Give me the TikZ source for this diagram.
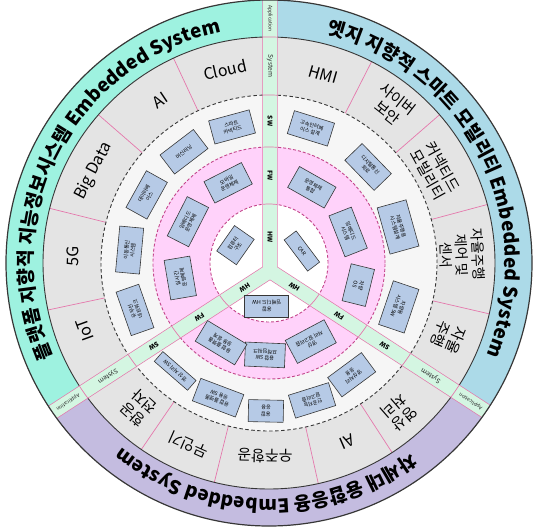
\documentclass[tikz,border=0pt]{standalone}
\usepackage{fontspec}
\setmainfont{Noto Sans CJK KR}
\usetikzlibrary{calc,decorations.text}
\definecolor{bandL}{RGB}{158,242,224}
\definecolor{bandR}{RGB}{172,218,232}
\definecolor{bandB}{RGB}{196,188,224}
\definecolor{ringgray}{RGB}{228,228,228}
\definecolor{swring}{RGB}{246,246,246}
\definecolor{fwpink}{RGB}{255,210,250}
\definecolor{stripc}{RGB}{212,246,226}
\definecolor{boxfill}{RGB}{182,202,230}
\definecolor{pinkline}{RGB}{228,120,172}
\definecolor{dashpink}{RGB}{196,70,140}
\definecolor{outline}{RGB}{55,55,55}
\begin{document}
\begin{tikzpicture}[x=1pt,y=1pt,
  ringtxt/.style={font=\fontsize{15}{17}\selectfont, align=center, text=black, inner sep=0pt},
  ringlat/.style={ringtxt, font=\fontsize{16}{17}\selectfont},
  mbox/.style={draw=outline, fill=boxfill, line width=0.6pt, minimum width=42pt, minimum height=24pt, align=center, inner sep=1pt, font=\fontsize{5.2}{6.2}\selectfont, text=black},
  slbl/.style={font=\fontsize{6.5}{7}\selectfont, inner sep=0pt, text=black!85},
  slbltiny/.style={font=\fontsize{5}{5}\selectfont, inner sep=0pt, text=black!85},
  slblbold/.style={font=\bfseries\fontsize{6.5}{7}\selectfont, inner sep=0pt, text=black},
  sep/.style={pinkline, line width=0.7pt},
  titletext/.style={decorate, decoration={text along path, text align=center, text color=black, text={|\bfseries\fontsize{19}{19}\selectfont|#1}}},
]
\useasboundingbox (-269,-264) rectangle (268,263);
\coordinate (J) at (1,-8);
\coordinate (C) at (0,0);
% title bands
\begin{scope}
  \clip (C) circle (263);
  \fill[bandL] (J) -- ($(J)+(90:600)$) -- ($(J)+(150:600)$) -- ($(J)+(213:600)$) -- cycle;
  \fill[bandR] (J) -- ($(J)+(327:600)$) -- ($(J)+(30:600)$) -- ($(J)+(90:600)$) -- cycle;
  \fill[bandB] (J) -- ($(J)+(213:600)$) -- ($(J)+(270:600)$) -- ($(J)+(327:600)$) -- cycle;
\end{scope}
% rings
\fill[ringgray] (C) circle (226);
\fill[swring] (C) circle (168);
\fill[fwpink] (C) circle (116);
\fill[white] (C) circle (59);
% separators in System ring
\foreach \s in {115,139,166,192,63,41,15,-13,235.6,256,282.6,303}
  \draw[sep] (\s:168) -- (\s:226);
\draw[outline, line width=0.9pt, dash pattern=on 3.5pt off 2.5pt] (C) circle (168);
\draw[dashpink, line width=0.9pt, dash pattern=on 3pt off 2pt] (C) circle (116);
\draw[dashpink, line width=0.9pt, dash pattern=on 3pt off 2pt] (C) circle (59);
\draw[outline, line width=0.9pt] (C) circle (226);
% strips
\begin{scope}
  \clip (C) circle (263);
  \draw[pinkline, line width=15.4pt, line cap=round] (J) -- ++(90:300) (J) -- ++(213:300) (J) -- ++(327:300);
  \draw[stripc, line width=14pt, line cap=round] (J) -- ++(90:300) (J) -- ++(213:300) (J) -- ++(327:300);
\end{scope}
\foreach \a in {90,213,327} {
  \begin{scope}
    \clip ($(J)+(\a+90:7.1)$) -- ++(\a:300) -- ++(\a-90:14.2) -- ++(\a+180:300) -- cycle;
    \draw[sep] (C) circle (226) (C) circle (168) (C) circle (116) (C) circle (59);
  \end{scope}
}
\draw[outline, line width=1.2pt] (C) circle (263);
% strip labels
\foreach \a/\rot/\o/\h in {90/-90/8/34, 213/213/-3.5/30, 327/147/-5.2/29} {
  \node[slbltiny, rotate=\rot] (app\a) at ($(J)+(\a:244.5+\o)$) {Application};
  \node[slbl, rotate=\rot] (sys\a) at ($(J)+(\a:197+\o)$) {System};
  \node[slblbold, rotate=\rot] (sw\a) at ($(J)+(\a:142+\o)$) {SW};
  \node[slblbold, rotate=\rot] (fw\a) at ($(J)+(\a:87.5+\o)$) {FW};
  \node[slblbold, rotate=\rot] (hw\a) at ($(J)+(\a:\h)$) {HW};
}
% System ring texts
\node[ringlat, rotate=12.8] (tcloud) at (102.8:198) {Cloud};
\node[ringlat, rotate=33.8] (tai) at (123.8:196) {AI};
\node[ringlat, rotate=62.3] (tbig) at (152.3:198) {Big Data};
\node[ringlat, rotate=88] (t5g) at (178:196) {5G};
\node[ringlat, rotate=110] (tiot) at (200:196) {IoT};
\node[ringlat, rotate=-16] (thmi) at (74:196) {HMI};
\node[ringtxt, rotate=-38.2] (tcyber) at (51.8:200) {사이버\\보안};
\node[ringtxt, rotate=-61] (tconn) at (29:190) {커넥티드\\모빌리티};
\node[ringtxt, rotate=-87.6, font=\fontsize{14}{16}\selectfont] (tadas) at (2.4:193) {자율주행\\제어 및\\센서};
\node[ringtxt, rotate=-112.5] (tauto) at (-22.5:194) {자율\\주행};
\node[ringtxt, rotate=138] (tavio) at (228:195) {항공\\전자};
\node[ringtxt, rotate=156] (tdrone) at (246:199) {무인기};
\node[ringtxt, rotate=178.8] (tspace) at (268.8:193) {우주항공};
\node[ringlat, rotate=203.5] (tai2) at (293.5:195) {AI};
\node[ringtxt, rotate=221] (timg) at (311:198) {영상\\처리};
% SW boxes
\node[mbox, rotate=15.2] (b1) at (105.2:141) {스마트\\커넥티드};
\node[mbox, rotate=37.4] (b2) at (127.4:140) {머신러닝};
\node[mbox, rotate=60.9] (b3) at (150.9:140) {데이터베\\이스};
\node[mbox, rotate=84.7, minimum width=46pt] (b4) at (174.7:140) {이동통신\\시스템};
\node[mbox, rotate=109.3, minimum width=46pt] (b5) at (199.3:142) {유무선\\네트워크};
\node[mbox, rotate=-17.3] (b10) at (72.7:141) {고속인터페\\이스 설계};
\node[mbox, rotate=-45.9] (b11) at (44.1:138) {디지털통신\\회로};
\node[mbox, rotate=-74.4, minimum width=48pt, minimum height=30pt] (b12) at (15.6:134) {자율주행용\\시스템설계};
\node[mbox, rotate=-108.7, minimum width=46pt, minimum height=27pt] (b13) at (-18.7:137) {차량용\\시스템 SW};
\node[mbox, rotate=139, minimum width=44pt, minimum height=13pt] (b31) at (229:143) {영상 처리 SW};
\node[mbox, rotate=159.3, minimum width=46pt] (b32) at (249.3:144) {융합 플랫폼\\응용 SW};
\node[mbox, rotate=178.8, minimum width=35pt, minimum height=22pt] (b33) at (268.8:148) {융합\\응용};
\node[mbox, rotate=197.4] (b34) at (287.4:144) {인공지능\\알고리즘};
\node[mbox, rotate=216.5] (b35) at (306.5:139) {영상처리\\응용};
% FW boxes
\node[mbox, rotate=27] (b6) at (117:90) {모바일\\운영체제};
\node[mbox, rotate=63, minimum width=44pt] (b7) at (153:91) {임베디드\\운영체제};
\node[mbox, rotate=99.6, minimum width=40pt, minimum height=26pt] (b8) at (189.6:90) {실시간\\운영체제};
\node[mbox, rotate=-29.5] (b14) at (60.5:87) {운영체제\\통합};
\node[mbox, rotate=-68.6, minimum width=44pt] (b15) at (21.4:85) {임베디드\\시스템};
\node[mbox, rotate=-103.9, minimum width=38pt] (b16) at (-13.9:92) {차량\\OS};
\node[mbox, rotate=177.5, minimum width=40pt] (b19) at (267.5:92) {융합 SW\\프레임워크};
\node[mbox, rotate=149, minimum width=46pt] (b20) at (239:93) {융합 플랫폼\\응용 설계};
\node[mbox, rotate=208, minimum width=44pt, minimum height=26pt] (b21) at (298:89) {영상\\처리 알고리즘};
% HW boxes
\node[mbox, rotate=55, minimum width=31pt] (b9) at (152:38) {컴퓨터\\구조};
\node[mbox, rotate=-53, minimum width=39pt, minimum height=15pt] (b17) at (20:35) {CAR};
\node[mbox, rotate=180, minimum width=44pt, minimum height=22pt] (b18) at (267:43) {융합\\임베디드 HW};
% titles
\path[titletext={플랫폼 지향적 지능정보시스템 Embedded System}] (222.5:236) arc[start angle=222.5, end angle=82.5, radius=236];
\path[titletext={엣지 지향적 스마트 모빌리티 Embedded System}] (96.5:236) arc[start angle=96.5, end angle=-43.5, radius=236];
\path[titletext={차세대 융합응용 Embedded System}] (339:236) arc[start angle=339, end angle=199, radius=236];
\end{tikzpicture}
\end{document}
